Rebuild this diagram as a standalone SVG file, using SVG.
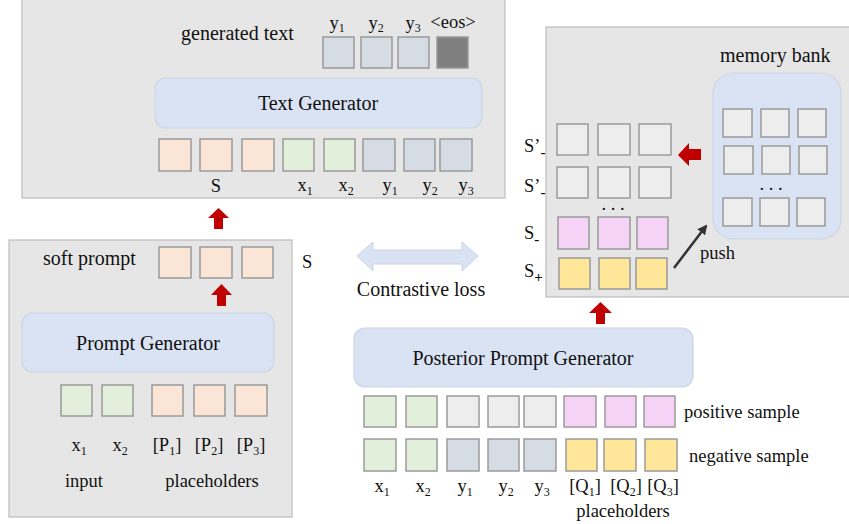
<svg xmlns="http://www.w3.org/2000/svg" width="849" height="524" viewBox="0 0 849 524">
<style>
text{font-family:"Liberation Serif","Times New Roman",serif;fill:#111;}
.t18{font-size:20px;}
.t17{font-size:18.5px;}
.sub{font-size:12px;}
.panel{fill:#e6e6e6;stroke:#bcbcbc;stroke-width:1.2;}
.gen{fill:#dae3f3;stroke:#ccd5e4;stroke-width:1.2;}
.sq{stroke:#9a9a9a;stroke-width:1.5;}
.pe{fill:#fbe5d6;}
.gr{fill:#e2efda;}
.bg{fill:#d6dce4;}
.dk{fill:#7f7f7f;}
.lg{fill:#ededed;}
.pk{fill:#f5d3f6;}
.ye{fill:#ffe699;}
.red{fill:#c00000;}
</style>
<defs>
<marker id="ah" viewBox="0 0 10 10" refX="8" refY="5" markerWidth="4" markerHeight="4" orient="auto" markerUnits="strokeWidth">
<path d="M0,0 L10,5 L0,10 z" fill="#333"/>
</marker>
</defs>

<g id="text-generator-panel">
<rect class="panel" x="22" y="-2" width="483" height="200"/>
<text class="t18" x="181" y="40">generated text</text>
<rect class="sq bg" x="323" y="37" width="31" height="31"/>
<rect class="sq bg" x="361" y="37" width="31" height="31"/>
<rect class="sq bg" x="398" y="37" width="31" height="31"/>
<rect class="sq dk" x="437" y="37" width="31" height="31"/>
<text class="t17" x="337" y="29" text-anchor="middle">y<tspan class="sub" dy="3">1</tspan></text>
<text class="t17" x="376" y="29" text-anchor="middle">y<tspan class="sub" dy="3">2</tspan></text>
<text class="t17" x="413" y="29" text-anchor="middle">y<tspan class="sub" dy="3">3</tspan></text>
<text class="t17" x="453" y="28" text-anchor="middle">&lt;eos&gt;</text>
<rect class="gen" x="155" y="78" width="327" height="50" rx="11"/>
<text class="t18" x="318" y="110" text-anchor="middle">Text Generator</text>
<rect class="sq pe" x="159" y="139" width="32" height="32"/>
<rect class="sq pe" x="200" y="139" width="32" height="32"/>
<rect class="sq pe" x="242" y="139" width="32" height="32"/>
<rect class="sq gr" x="283" y="139" width="31" height="32"/>
<rect class="sq gr" x="324" y="139" width="31" height="32"/>
<rect class="sq bg" x="363" y="139" width="32" height="32"/>
<rect class="sq bg" x="404" y="139" width="31" height="32"/>
<rect class="sq bg" x="440" y="139" width="32" height="32"/>
<text class="t17" x="216" y="192" text-anchor="middle">S</text>
<text class="t17" x="305" y="191" text-anchor="middle">x<tspan class="sub" dy="4">1</tspan></text>
<text class="t17" x="346" y="191" text-anchor="middle">x<tspan class="sub" dy="4">2</tspan></text>
<text class="t17" x="390" y="191" text-anchor="middle">y<tspan class="sub" dy="4">1</tspan></text>
<text class="t17" x="430" y="191" text-anchor="middle">y<tspan class="sub" dy="4">2</tspan></text>
<text class="t17" x="466" y="191" text-anchor="middle">y<tspan class="sub" dy="4">3</tspan></text>
</g>

<g id="prompt-generator-panel">
<rect class="panel" x="9" y="240" width="283" height="277"/>
<text class="t18" x="43" y="265">soft prompt</text>
<rect class="sq pe" x="159" y="247" width="32" height="31"/>
<rect class="sq pe" x="200" y="247" width="32" height="31"/>
<rect class="sq pe" x="242" y="247" width="31" height="31"/>
<rect class="gen" x="22" y="313" width="252" height="59" rx="11"/>
<text class="t18" x="148" y="350" text-anchor="middle">Prompt Generator</text>
<rect class="sq gr" x="61" y="385" width="31" height="31"/>
<rect class="sq gr" x="102" y="385" width="31" height="31"/>
<rect class="sq pe" x="152" y="385" width="31" height="31"/>
<rect class="sq pe" x="194" y="385" width="31" height="31"/>
<rect class="sq pe" x="235" y="385" width="32" height="31"/>
<text class="t17" x="79" y="451" text-anchor="middle">x<tspan class="sub" dy="4">1</tspan></text>
<text class="t17" x="120" y="451" text-anchor="middle">x<tspan class="sub" dy="4">2</tspan></text>
<text class="t17" x="167" y="451" text-anchor="middle">[P<tspan class="sub" dy="4">1</tspan><tspan dy="-4">]</tspan></text>
<text class="t17" x="209" y="451" text-anchor="middle">[P<tspan class="sub" dy="4">2</tspan><tspan dy="-4">]</tspan></text>
<text class="t17" x="251" y="451" text-anchor="middle">[P<tspan class="sub" dy="4">3</tspan><tspan dy="-4">]</tspan></text>
<text class="t17" x="84" y="487" text-anchor="middle">input</text>
<text class="t17" x="212" y="487" text-anchor="middle">placeholders</text>
</g>
<g id="s-label">
<text class="t17" x="302" y="268">S</text>
</g>

<g id="contrastive-loss">
<text class="t18" x="421" y="296" text-anchor="middle">Contrastive loss</text>
</g>

<g id="memory-panel">
<rect class="panel" x="546" y="27" width="305" height="270"/>
<text class="t18" x="720" y="62">memory bank</text>
<rect class="gen" x="713" y="73" width="128" height="166" rx="20"/>
<rect class="sq lg" x="723" y="109" width="29" height="28"/>
<rect class="sq lg" x="761" y="109" width="28" height="28"/>
<rect class="sq lg" x="798" y="109" width="28" height="28"/>
<rect class="sq lg" x="724" y="146" width="29" height="28"/>
<rect class="sq lg" x="762" y="146" width="28" height="28"/>
<rect class="sq lg" x="799" y="146" width="28" height="28"/>
<text class="t17" x="771" y="190" text-anchor="middle">. . .</text>
<rect class="sq lg" x="723" y="198" width="29" height="28"/>
<rect class="sq lg" x="760" y="198" width="29" height="28"/>
<rect class="sq lg" x="797" y="198" width="28" height="28"/>
<rect class="sq lg" x="557" y="124" width="31" height="31"/>
<rect class="sq lg" x="598" y="124" width="32" height="31"/>
<rect class="sq lg" x="639" y="124" width="32" height="31"/>
<rect class="sq lg" x="557" y="167" width="31" height="31"/>
<rect class="sq lg" x="598" y="167" width="32" height="31"/>
<rect class="sq lg" x="639" y="167" width="32" height="31"/>
<text class="t17" x="613" y="210" text-anchor="middle">. . .</text>
<rect class="sq pk" x="558" y="217" width="31" height="32"/>
<rect class="sq pk" x="598" y="217" width="32" height="32"/>
<rect class="sq pk" x="637" y="217" width="31" height="32"/>
<rect class="sq ye" x="559" y="258" width="31" height="31"/>
<rect class="sq ye" x="599" y="258" width="31" height="31"/>
<rect class="sq ye" x="636" y="258" width="31" height="31"/>
<text class="t17" x="524" y="152">S’<tspan font-size="15" font-weight="bold" dy="5">-</tspan></text>
<text class="t17" x="524" y="192">S’<tspan font-size="15" font-weight="bold" dy="5">-</tspan></text>
<text class="t17" x="524" y="239">S<tspan font-size="15" font-weight="bold" dy="5">-</tspan></text>
<text class="t17" x="524" y="277">S<tspan font-size="15" font-weight="bold" dy="5">+</tspan></text>
<text class="t17" x="700" y="259">push</text>
</g>

<g id="posterior-prompt-generator">
<rect class="gen" x="354" y="328" width="339" height="59" rx="11"/>
<text class="t18" x="523" y="365" text-anchor="middle">Posterior Prompt Generator</text>
<rect class="sq gr" x="364" y="396" width="32" height="31"/>
<rect class="sq gr" x="406" y="396" width="31" height="31"/>
<rect class="sq lg" x="447" y="396" width="32" height="31"/>
<rect class="sq lg" x="488" y="396" width="31" height="31"/>
<rect class="sq lg" x="524" y="396" width="32" height="31"/>
<rect class="sq pk" x="564" y="396" width="32" height="31"/>
<rect class="sq pk" x="605" y="396" width="31" height="31"/>
<rect class="sq pk" x="644" y="396" width="31" height="31"/>
<rect class="sq gr" x="364" y="439" width="32" height="32"/>
<rect class="sq gr" x="406" y="439" width="31" height="32"/>
<rect class="sq bg" x="447" y="439" width="32" height="32"/>
<rect class="sq bg" x="488" y="439" width="31" height="32"/>
<rect class="sq bg" x="524" y="439" width="32" height="32"/>
<rect class="sq ye" x="566" y="439" width="31" height="32"/>
<rect class="sq ye" x="604" y="439" width="32" height="32"/>
<rect class="sq ye" x="645" y="439" width="32" height="32"/>
<text class="t17" x="684" y="418">positive sample</text>
<text class="t17" x="689" y="462">negative sample</text>
<text class="t17" x="382" y="492" text-anchor="middle">x<tspan class="sub" dy="4">1</tspan></text>
<text class="t17" x="423" y="492" text-anchor="middle">x<tspan class="sub" dy="4">2</tspan></text>
<text class="t17" x="465" y="492" text-anchor="middle">y<tspan class="sub" dy="4">1</tspan></text>
<text class="t17" x="506" y="492" text-anchor="middle">y<tspan class="sub" dy="4">2</tspan></text>
<text class="t17" x="542" y="492" text-anchor="middle">y<tspan class="sub" dy="4">3</tspan></text>
<text class="t17" x="585" y="492" text-anchor="middle">[Q<tspan class="sub" dy="4">1</tspan><tspan dy="-4">]</tspan></text>
<text class="t17" x="626" y="492" text-anchor="middle">[Q<tspan class="sub" dy="4">2</tspan><tspan dy="-4">]</tspan></text>
<text class="t17" x="663" y="492" text-anchor="middle">[Q<tspan class="sub" dy="4">3</tspan><tspan dy="-4">]</tspan></text>
<text class="t17" x="623" y="517" text-anchor="middle">placeholders</text>
</g>

<g id="connectors">
<polygon class="red" points="208,218 218.5,208 229,218 223,218 223,229 214,229 214,218"/>
<polygon class="red" points="211,295 221.5,284 232,295 226,295 226,306 217,306 217,295"/>
<polygon class="red" points="589,313 600.5,302 612,313 605,313 605,324 596,324 596,313"/>
<polygon class="red" points="678,155 689,143 689,149 701,149 701,160 689,160 689,166"/>
<polygon points="357,256 373,242 373,250 462,250 462,242 478,256 462,271 462,264 373,264 373,271" fill="#dae3f3" stroke="#c9d3e4" stroke-width="1"/>
<line x1="674" y1="268" x2="706" y2="226" stroke="#333" stroke-width="2.5" marker-end="url(#ah)"/>
</g>
</svg>
